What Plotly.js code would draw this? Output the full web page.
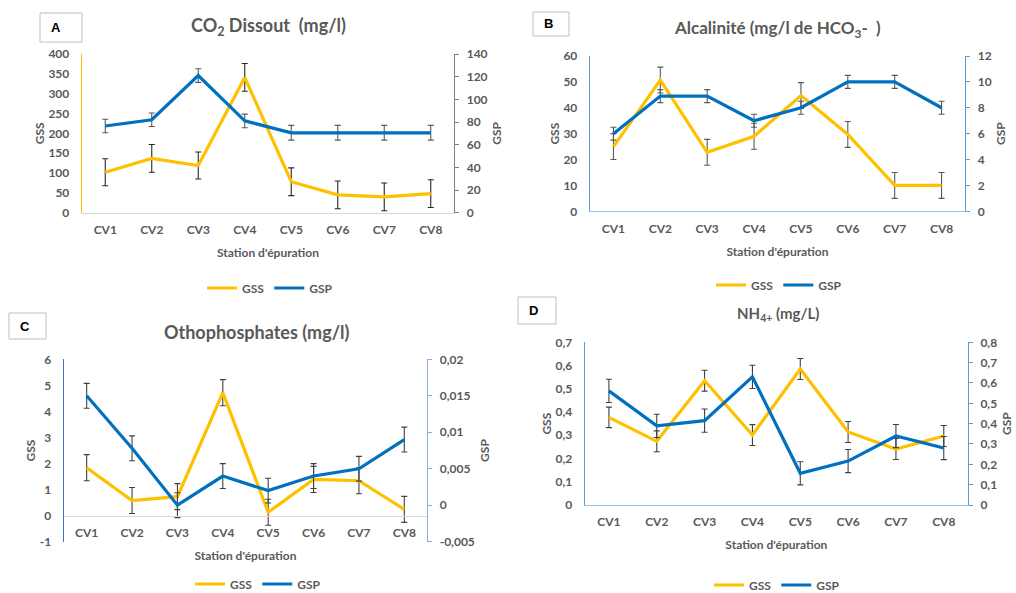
<!DOCTYPE html>
<html>
<head>
<meta charset="utf-8">
<script src="https://cdn.plot.ly/plotly-3.0.1.min.js"></script>
<style>html,body{margin:0;padding:0;background:#fff;}#chart{width:1016px;height:593px;}</style>
</head>
<body>
<div id="chart"></div>
<script>
// ---------- DATA ----------
const categories = ['CV1', 'CV2', 'CV3', 'CV4', 'CV5', 'CV6', 'CV7', 'CV8'];

// A: CO2 dissous
const co2GSS = [102, 137, 119, 341, 78, 45, 40, 48];
const co2GSSErr = [34, 35, 34, 35, 35, 35, 35, 35];
const co2GSP = [76.5, 82, 121, 81, 70.5, 70.5, 70.5, 70.5];
const co2GSPErr = [6, 6, 6, 6, 6.5, 6.5, 6.5, 6.5];

// B: Alcalinité
const alcGSS = [25, 50.7, 22.8, 29, 44.7, 29.7, 10, 10];
const alcGSSErr = [5, 5, 5, 5, 5, 5, 5, 5];
const alcGSP = [6, 8.9, 8.9, 7, 8, 10, 10, 8];
const alcGSPErr = [0.5, 0.5, 0.5, 0.5, 0.5, 0.5, 0.5, 0.5];

// C: Orthophosphates
const orthoGSS = [1.84, 0.58, 0.73, 4.72, 0.13, 1.39, 1.34, 0.24];
const orthoGSSErr = [0.5, 0.5, 0.5, 0.5, 0.5, 0.5, 0.5, 0.5];
const orthoGSP = [0.015, 0.0078, 0, 0.004, 0.002, 0.004, 0.005, 0.009];
const orthoGSPErr = [0.0017, 0.0017, 0.0017, 0.0017, 0.0017, 0.0017, 0.0017, 0.0017];
const orthoLeftTickVals = [-1, 0, 1, 2, 3, 4, 5, 6];
const orthoLeftTickText = ['-1', '0', '1', '2', '3', '4', '5', '6'];
const orthoRightTickVals = [-0.005, 0, 0.005, 0.01, 0.015, 0.02];
const orthoRightTickText = ['-0,005', '0', '0,005', '0,01', '0,015', '0,02'];

// D: NH4+
const nh4GSS = [0.377, 0.274, 0.535, 0.301, 0.585, 0.314, 0.241, 0.297];
const nh4GSSErr = [0.044, 0.045, 0.045, 0.045, 0.045, 0.045, 0.045, 0.045];
const nh4GSP = [0.561, 0.389, 0.415, 0.63, 0.156, 0.216, 0.339, 0.28];
const nh4GSPErr = [0.057, 0.057, 0.057, 0.057, 0.057, 0.057, 0.057, 0.057];

const panelTitles = ['CO<sub>2</sub> Dissout\u00a0 (mg/l)', 'Alcalinité (mg/l de HCO<sub>3</sub>-\u00a0 )', 'Othophosphates (mg/l)', 'NH<sub>4+</sub> (mg/L)'];
const panelLetters = ['A', 'B', 'C', 'D'];
const xTitle = "Station d'épuration";

// ---------- STYLE ----------
const W = 1016, H = 593;
const px = v => v / W;
const py = v => 1 - v / H;
const GOLD = '#FFC000', BLUE = '#0070C0';
const TXT = '#595959';
const FONT = 'Lato, "Liberation Sans", Arial, sans-serif';
const tickFont = {family: FONT, size: 12, color: TXT, weight: 'bold'};
const axTitleFont = {family: FONT, size: 12, color: TXT, weight: 'bold'};

function line(name, x, y, err, color, xa, ya, leg, errColor) {
  return {
    type: 'scatter', mode: 'lines', name: name, x: x, y: y,
    xaxis: xa, yaxis: ya, legend: leg,
    line: {color: color, width: 3.2},
    error_y: {type: 'data', array: err, visible: true, color: errColor, thickness: 1.1, width: 3}
  };
}

const traces = [
  line('GSS', categories, co2GSS, co2GSSErr, GOLD, 'x', 'y', 'legend', '#262626'),
  line('GSP', categories, co2GSP, co2GSPErr, BLUE, 'x', 'y2', 'legend', '#595959'),
  line('GSS', categories, alcGSS, alcGSSErr, GOLD, 'x2', 'y3', 'legend2', '#595959'),
  line('GSP', categories, alcGSP, alcGSPErr, BLUE, 'x2', 'y4', 'legend2', '#595959'),
  line('GSS', categories, orthoGSS, orthoGSSErr, GOLD, 'x3', 'y5', 'legend3', '#404040'),
  line('GSP', categories, orthoGSP, orthoGSPErr, BLUE, 'x3', 'y6', 'legend3', '#404040'),
  line('GSS', categories, nh4GSS, nh4GSSErr, GOLD, 'x4', 'y7', 'legend4', '#404040'),
  line('GSP', categories, nh4GSP, nh4GSPErr, BLUE, 'x4', 'y8', 'legend4', '#404040')
];

function xAxis(domain, anchor, lineColor, extra) {
  return Object.assign({
    domain: domain, anchor: anchor, type: 'category', range: [-0.5, 7.5],
    showline: true, linecolor: lineColor, linewidth: 1, showgrid: false, zeroline: false,
    ticks: '', tickfont: tickFont, ticklabelstandoff: 6,
    title: {text: xTitle, font: axTitleFont, standoff: 12}
  }, extra || {});
}
function yLeft(domain, anchor, range, dtick, lineColor, extra) {
  return Object.assign({
    domain: domain, anchor: anchor, range: range, dtick: dtick,
    showline: true, linecolor: lineColor, linewidth: 1.3, showgrid: false, zeroline: false,
    ticks: '', tickfont: tickFont, ticklabelstandoff: 9,
    title: {text: 'GSS', font: axTitleFont, standoff: 1}
  }, extra || {});
}
function yRight(overlay, anchor, range, dtick, lineColor, extra) {
  return Object.assign({
    overlaying: overlay, side: 'right', anchor: anchor, range: range, dtick: dtick,
    showline: true, linecolor: lineColor, linewidth: 1.3, showgrid: false, zeroline: false,
    ticks: 'outside', ticklen: 4, tickcolor: lineColor, tickfont: tickFont, ticklabelstandoff: 5,
    title: {text: 'GSP', font: axTitleFont, standoff: 6}
  }, extra || {});
}

const legendFont = {family: FONT, size: 12, color: TXT, weight: 'bold'};
const layout = {
  width: W, height: H, autosize: false,
  margin: {l: 0, r: 0, t: 0, b: 0, autoexpand: false},
  paper_bgcolor: '#fff', plot_bgcolor: 'rgba(0,0,0,0)',
  separators: ', ',
  font: {family: FONT, color: TXT},
  showlegend: true,
  // A
  xaxis: xAxis([px(82), px(454)], 'y', '#D9D9D9'),
  yaxis: yLeft([py(212.7), py(54)], 'x', [0, 400], 50, GOLD),
  yaxis2: yRight('y', 'x', [0, 140], 20, '#7F7F7F'),
  // B
  xaxis2: xAxis([px(590), px(965)], 'y3', '#9DC3E6'),
  yaxis3: yLeft([py(211.3), py(56)], 'x2', [0, 60], 10, '#5B9BD5'),
  yaxis4: yRight('y3', 'x2', [0, 12], 2, '#5B9BD5'),
  // C
  xaxis3: xAxis([px(64), px(427)], 'free', '#D9D9D9', {position: py(515.7)}),
  yaxis5: yLeft([py(541.7), py(359.3)], 'x3', [-1, 6], 1, '#4472C4',
                {tickmode: 'array', tickvals: orthoLeftTickVals, ticktext: orthoLeftTickText}),
  yaxis6: yRight('y5', 'x3', [-0.005, 0.02], 0.005, '#8FAADC',
                {tickmode: 'array', tickvals: orthoRightTickVals, ticktext: orthoRightTickText}),
  // D
  xaxis4: xAxis([px(585), px(967.7)], 'y7', '#9DC3E6'),
  yaxis7: yLeft([py(505), py(342.3)], 'x4', [0, 0.7], 0.1, '#5B9BD5'),
  yaxis8: yRight('y7', 'x4', [0, 0.8], 0.1, '#5B9BD5'),
  legend:  {orientation: 'h', x: px(270), y: py(288), xanchor: 'center', yanchor: 'middle', font: legendFont, bgcolor: 'rgba(0,0,0,0)'},
  legend2: {orientation: 'h', x: px(779), y: py(285), xanchor: 'center', yanchor: 'middle', font: legendFont, bgcolor: 'rgba(0,0,0,0)'},
  legend3: {orientation: 'h', x: px(258), y: py(584), xanchor: 'center', yanchor: 'middle', font: legendFont, bgcolor: 'rgba(0,0,0,0)'},
  legend4: {orientation: 'h', x: px(777), y: py(585), xanchor: 'center', yanchor: 'middle', font: legendFont, bgcolor: 'rgba(0,0,0,0)'},
  shapes: [],
  annotations: []
};

// Panel titles
const titlePos = [[268, 26, 18], [777, 29, 17], [257, 332, 18], [778, 314, 15]];
panelTitles.forEach((t, i) => {
  layout.annotations.push({
    text: t, xref: 'paper', yref: 'paper', x: px(titlePos[i][0]), y: py(titlePos[i][1]),
    xanchor: 'center', yanchor: 'middle', showarrow: false,
    font: {family: FONT, size: titlePos[i][2], color: TXT, weight: 'bold'}
  });
});

// Letter boxes
const boxes = [[40, 13, 82, 42], [533, 12, 569, 36], [9, 313, 46, 339], [518, 297, 556, 324]];
boxes.forEach((b, i) => {
  layout.shapes.push({type: 'rect', xref: 'paper', yref: 'paper', x0: px(b[0]), x1: px(b[2]), y0: py(b[3]), y1: py(b[1]),
    line: {color: '#BFBFBF', width: 1}, fillcolor: '#fff', layer: 'above'});
  layout.annotations.push({
    text: panelLetters[i], xref: 'paper', yref: 'paper', x: px(b[0] + 9), y: py((b[1] + b[3]) / 2),
    xanchor: 'left', yanchor: 'middle', showarrow: false,
    font: {family: '"Liberation Sans", Arial, sans-serif', size: 13, color: '#000', weight: 'bold'}
  });
});

Plotly.newPlot('chart', traces, layout, {displayModeBar: false, staticPlot: true});
</script>
</body>
</html>
